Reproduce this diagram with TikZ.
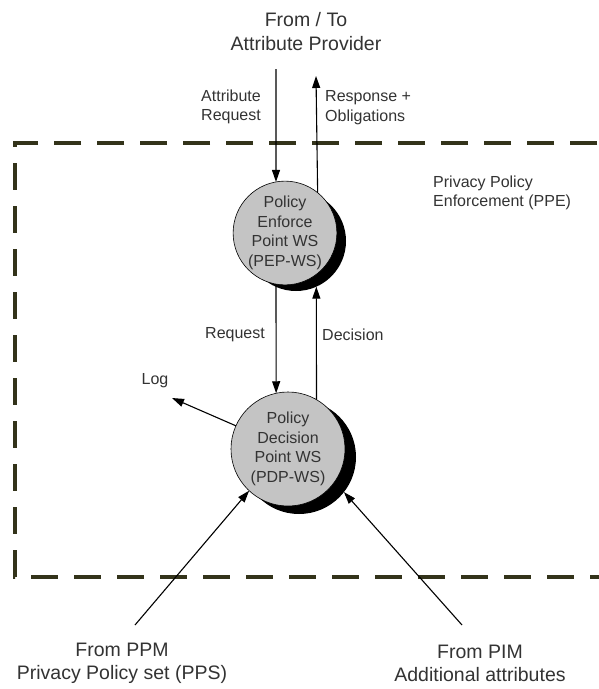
\documentclass[tikz,border=0pt]{standalone}
\usepackage{fontspec}
\setmainfont{Liberation Sans}
\usetikzlibrary{arrows.meta}
\definecolor{txt}{HTML}{333333}
\definecolor{olivedash}{HTML}{33331A}
\definecolor{bubble}{HTML}{C4C4C4}
\begin{document}
\begin{tikzpicture}[x=1pt,y=-1pt,
  big/.style={font=\fontsize{19.5}{23.5}\selectfont,text=txt,align=center,inner sep=0pt},
  small/.style={font=\fontsize{16}{19.5}\selectfont,text=txt,inner sep=0pt},
  bubblenode/.style={circle,draw=black,line width=0.6pt,fill=bubble,inner sep=0pt,outer sep=0pt,
    minimum size=#1,align=center,text=txt,font=\fontsize{16}{19.5}\selectfont},
  shadownode/.style={circle,fill=black,inner sep=0pt,outer sep=0pt,minimum size=#1},
  conn/.style={line width=1.1pt,-{Triangle[length=12pt,width=8pt]}},
  plainline/.style={line width=1.1pt}]
\useasboundingbox (0,0) rectangle (599,689);
\fill[white] (0,0) rectangle (599,689);

% enforcement boundary (runs off the right edge)
\begin{scope}
\clip (0,0) rectangle (599,689);
\draw[olivedash,line width=3.5pt,dash pattern=on 27pt off 16pt]
  (640,143) -- (15,143) -- (15,577) -- (640,577);
\end{scope}

% web-service bubbles with drop shadows
\node[shadownode=100] (pepsh) at (296,241) {};
\node[bubblenode=100] (pep) at (285,233) {Policy\\Enforce\\Point WS\\(PEP-WS)};
\node[shadownode=114] (pdpsh) at (299,457) {};
\node[bubblenode=114] (pdp) at (288,449) {Policy\\Decision\\Point WS\\(PDP-WS)};

% free ends of the external connectors
\coordinate (provIn) at (276,69);
\coordinate (provOut) at (316,76);
\coordinate (logEnd) at (172,398);
\coordinate (ppmStart) at (135,625);
\coordinate (pimStart) at (462,625);

\draw[conn] (provIn) -- (pep.100.4);
\draw[conn] (pep.51.7) -- (provOut);
\draw[conn] (pep.-100.4) -- (pdp.102.2);
\draw[conn] (pdp.60.6) -- (pepsh.-66.4);
\draw[conn] (pdp.156) -- (logEnd);
\draw[conn] (ppmStart) -- (pdp.-133);
\draw[conn] (pimStart) -- (pdpsh.-38);

% labels
\node[big] (fromto) at (306,31.5) {From / To\\Attribute Provider};
\node[small,align=center] (attrreq) at (231,107) {Attribute\\Request};
\node[small,align=left,anchor=west] (respobl) at (325,107.5) {Response +\\Obligations};
\node[small,align=left,anchor=west] (ppe) at (433,193) {Privacy Policy\\Enforcement (PPE)};
\node[small] (reqlbl) at (235,335) {Request};
\node[small,anchor=west] (declbl) at (322,335) {Decision};
\node[small] (loglbl) at (155,381) {Log};
\node[big] (ppm) at (122,663.5) {From PPM\\Privacy Policy set (PPS)};
\node[big] (pim) at (480,663.5) {From PIM\\Additional attributes};
\end{tikzpicture}
\end{document}
